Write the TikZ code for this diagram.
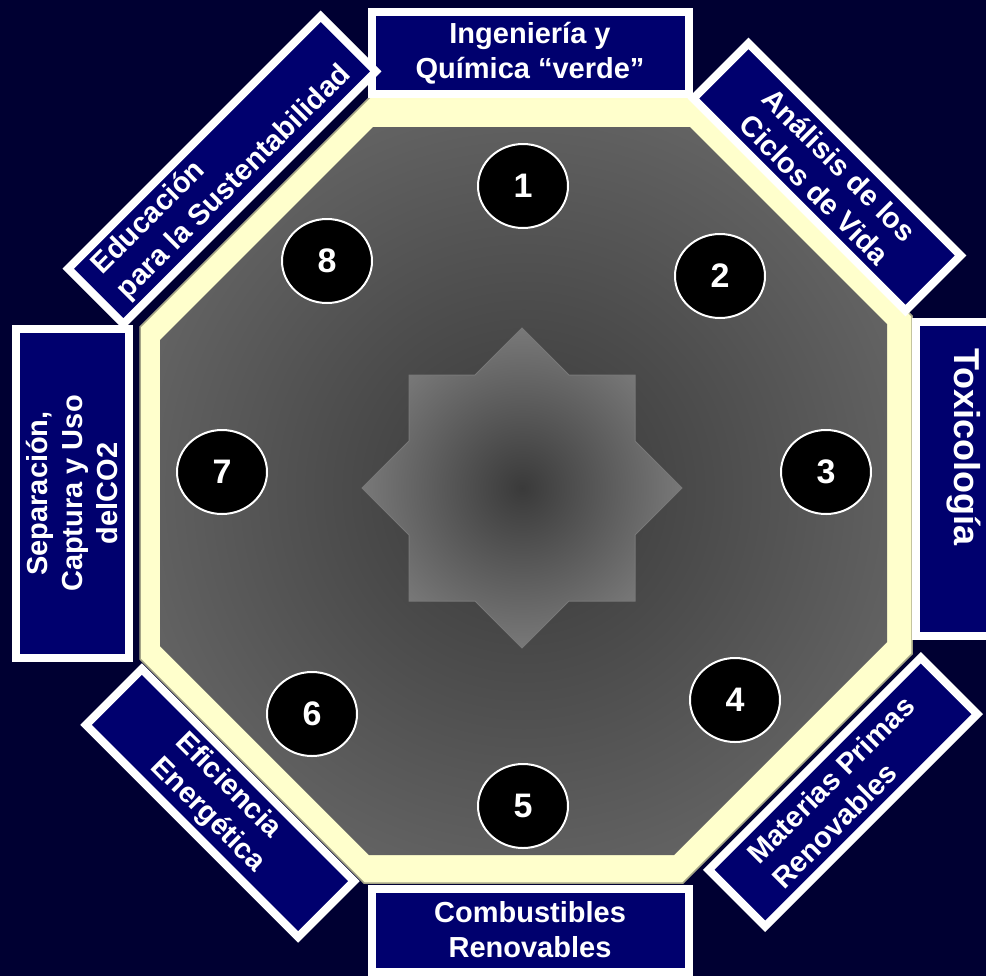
\documentclass[tikz,border=0pt]{standalone}
\usepackage{fontspec}
\setmainfont{Liberation Sans}
\usetikzlibrary{shapes.geometric}
\definecolor{bgnavy}{RGB}{0,0,50}
\definecolor{boxnavy}{RGB}{0,0,110}
\definecolor{bandcream}{RGB}{255,255,204}
\definecolor{bandedge}{RGB}{165,165,135}
\definecolor{octdark}{RGB}{56,56,56}
\definecolor{octlight}{RGB}{134,134,134}
\definecolor{stardark}{RGB}{58,58,58}
\definecolor{starlight}{RGB}{128,128,128}
\definecolor{staredge}{RGB}{120,120,120}
\pgfdeclareradialshading{octshade}{\pgfpoint{0bp}{0bp}}{color(0bp)=(octdark); color(50bp)=(octlight); color(75bp)=(octlight)}
\pgfdeclareradialshading{starshade}{\pgfpoint{0bp}{0bp}}{color(0bp)=(stardark); color(28bp)=(starlight); color(75bp)=(starlight)}

\begin{document}
\begin{tikzpicture}[
x=0.5pt,
y=-0.5pt,
topic/.style={
draw=white,
line width=4pt,
fill=boxnavy,
text=white,
inner sep=0pt,
align=center,
font=\fontsize{14.5}{17.5}\selectfont\bfseries
},
num/.style={
ellipse,
draw=white,
line width=1pt,
fill=black,
minimum width=45pt,
minimum height=42pt,
inner sep=0pt,
text=white,
font=\fontsize{17}{20}\selectfont\bfseries
}
]

\fill[bgnavy] (0,0) rectangle (986,976);
\useasboundingbox (0,0) rectangle (986,976);

% cream band and grey field
\filldraw[fill=bandcream, draw=bandedge, line width=0.75pt]
(370,97) -- (693,97) -- (912,316) -- (912,654) -- (683,883)
-- (364,883) -- (140,659) -- (140,327) -- cycle;
\shade[shading=octshade]
(373,127) -- (690,127) -- (887,324) -- (887,642) -- (674,855)
-- (369,855) -- (160,646) -- (160,340) -- cycle;

% star
\shadedraw[shading=starshade, draw=staredge, line width=0.5pt, shift={(522,488)}]
(0,-160) -- (47,-113) -- (113,-113) -- (113,-47) -- (160,0)
-- (113,47) -- (113,113) -- (47,113) -- (0,160) -- (-47,113)
-- (-113,113) -- (-113,47) -- (-160,0) -- (-113,-47)
-- (-113,-113) -- (-47,-113) -- cycle;

\node[num] (n1) at (523,186) {1};
\node[num] (n2) at (720,276) {2};
\node[num] (n3) at (826,472) {3};
\node[num] (n4) at (735,700) {4};
\node[num] (n5) at (523,806) {5};
\node[num] (n6) at (312,714) {6};
\node[num] (n7) at (222,472) {7};
\node[num] (n8) at (327,261) {8};

% topic boxes
\node[topic, minimum width=158.5pt, minimum height=41pt] (ing) at (530,53)
{Ingeniería y\\Química “verde”};

\node[topic, rotate=-45, minimum width=150pt, minimum height=39pt] (ana) at (827,177)
{Análisis de los\\Ciclos de Vida};

\node[topic, rotate=-90, minimum width=157pt, minimum height=52pt] (tox) at (968,479) {};
\node[text=white, rotate=-90, inner sep=0pt,
font=\fontsize{18}{21}\selectfont\bfseries] (toxlab) at (964,447) {Toxicología};

\node[topic, rotate=45, align=left, minimum width=150pt, minimum height=40pt] (mat) at (843,792)
{Materias Primas\\Renovables};

\node[topic, minimum width=158.5pt, minimum height=41.5pt] (com) at (530,930)
{Combustibles\\Renovables};

\node[topic, rotate=-45, align=left, minimum width=150pt, minimum height=39.5pt] (efi) at (220,803)
{Eficiencia\\Energética};

\node[topic, rotate=90, minimum width=164.5pt, minimum height=56.5pt] (sep) at (72.5,493.5)
{Separación,\\Captura y Uso\\delCO2};

\node[topic, rotate=45, align=left, minimum width=178.5pt, minimum height=39pt] (edu) at (222,170)
{Educación\\para la Sustentabilidad};

\end{tikzpicture}
\end{document}
